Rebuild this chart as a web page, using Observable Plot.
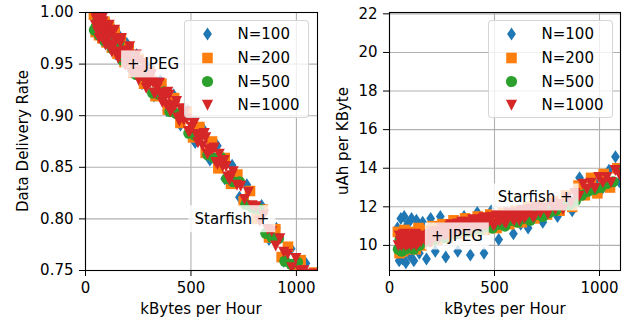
<!DOCTYPE html>
<html>
<head>
<meta charset="utf-8">
<script src="https://cdn.jsdelivr.net/npm/d3@7"></script>
<script src="https://cdn.jsdelivr.net/npm/@observablehq/plot@0.6"></script>
<style>
  body { margin: 0; background: #fff; font-family: "DejaVu Sans", sans-serif; }
  #wrap { position: relative; width: 639px; height: 322px; overflow: hidden; background: #fff; }
  .panel { position: absolute; top: 0; }
  .lab { position: absolute; font-size: 15px; color: #000; white-space: nowrap; line-height: 1; }
  .legend { position: absolute; background: rgba(255,255,255,0.8); border: 1px solid rgba(204,204,204,0.8); border-radius: 4px; box-sizing: border-box; }
  .legend svg { position: absolute; left: 0; top: 0; overflow: visible; }
</style>
</head>
<body>
<div id="wrap"></div>
<script>
// ---------------- data ----------------
const seriesLabels = ["N=100", "N=200", "N=500", "N=1000"];
const seriesColors = ["#1f77b4", "#ff7f0e", "#2ca02c", "#d62728"];

// N=100
const n100Kbph = [38,46,54,62,70,78,86,95,105,116,128,142,158,176,196,218,242,268,296,325,355,385,418,450,485,520,555,590,625,660,695,730,765,800,835,870,905,940,975,1010,1045,1076,1095];
const n100Rate = [0.999,0.980,0.998,0.977,0.997,0.973,0.994,0.970,0.990,0.966,0.985,0.960,0.978,0.952,0.970,0.943,0.959,0.931,0.947,0.919,0.934,0.905,0.920,0.891,0.905,0.874,0.888,0.857,0.871,0.839,0.852,0.821,0.833,0.801,0.813,0.780,0.791,0.759,0.771,0.745,0.757,0.746,0.740];
const n100Uah  = [10.9,9.2,11.4,9.3,11.5,9.1,11.1,9.5,11.4,9.2,11.3,9.6,11.2,9.3,11.4,9.7,11.5,9.4,11.2,9.7,11.5,9.5,11.7,9.6,11.8,10.3,11.7,10.6,11.1,10.9,12.0,11.2,12.2,11.5,12.5,11.8,13.5,12.7,13.3,12.9,13.9,14.6,13.3];

// N=200
const n200Kbph = [40,48,56,64,72,80,90,100,112,125,138,152,168,185,205,228,252,278,305,332,360,390,420,450,480,510,540,570,600,630,660,690,720,750,780,810,840,870,900,930,960,990,1020,1050,1085];
const n200Rate = [0.998,0.981,0.998,0.978,0.995,0.975,0.991,0.971,0.986,0.966,0.981,0.960,0.974,0.952,0.966,0.942,0.955,0.931,0.943,0.919,0.931,0.906,0.917,0.893,0.904,0.879,0.889,0.864,0.875,0.849,0.859,0.834,0.843,0.817,0.827,0.800,0.809,0.782,0.790,0.763,0.773,0.748,0.760,0.737,0.748];
const n200Uah  = [10.7,9.6,10.5,9.7,10.8,9.8,10.6,9.9,10.7,9.8,10.9,10.0,10.8,10.2,11.0,10.3,11.1,10.4,11.3,10.6,11.4,10.7,11.5,10.8,11.6,10.9,11.7,11.1,11.8,11.2,12.0,11.4,12.1,11.6,12.3,11.8,12.6,12.0,13.1,12.6,13.5,12.7,13.7,13.0,14.0];

// N=500
const n500Kbph = [42,50,58,66,74,84,94,104,115,128,142,158,175,195,215,240,265,290,318,345,372,400,430,460,490,520,550,580,610,640,670,700,730,760,790,820,855,885,915,945,975,1005,1035,1065,1095];
const n500Rate = [0.983,0.986,0.992,0.978,0.981,0.987,0.972,0.975,0.981,0.965,0.967,0.971,0.954,0.955,0.958,0.940,0.939,0.941,0.922,0.921,0.923,0.904,0.902,0.903,0.883,0.881,0.882,0.862,0.859,0.860,0.839,0.836,0.836,0.814,0.811,0.810,0.786,0.782,0.781,0.759,0.756,0.758,0.739,0.739,0.742];
const n500Uah  = [9.8,10.3,9.7,10.0,9.8,10.4,9.9,10.1,9.8,10.2,10.0,10.3,10.2,10.6,10.3,10.5,10.4,10.7,10.6,10.8,10.7,11.0,10.8,11.0,10.9,11.1,11.0,11.3,11.2,11.4,11.3,11.6,11.5,11.7,11.8,12.0,12.1,12.3,12.6,12.8,12.9,13.0,13.2,13.3,13.9];

// N=1000
const n1000Kbph = [42,47,52,57,62,67,72,77,82,87,92,97,103,109,115,121,128,135,142,150,158,
  166,175,184,194,204,214,225,236,247,258,270,282,294,306,318,331,344,357,370,383,396,410,424,438,452,466,480,495,510,525,540,555,570,586,602,618,634,650,666,683,700,
  718,736,754,772,790,808,826,845,864,883,902,921,940,959,978,997,1016,1035,1055,1075,1095,
  55,65,80,95,112,125,138,155,
  170,189,199,209,219,230,241,252,264,276,288,300,312,325,338,351,364,377,390,403,417,431,445,459,473,488,503,518,533,548,563,578,594,610,626,642,658,675,692];
const n1000Rate = [0.998,0.988,0.993,0.982,0.995,0.984,0.989,0.978,0.991,0.980,0.985,0.974,0.986,0.975,0.980,0.968,0.981,0.969,0.974,0.962,0.974,
  0.971,0.961,0.963,0.953,0.963,0.952,0.954,0.943,0.953,0.942,0.944,0.933,0.942,0.932,0.933,0.922,0.931,0.920,0.922,0.911,0.920,0.909,0.910,0.898,0.907,0.896,0.897,0.885,0.894,0.882,0.882,0.871,0.879,0.867,0.868,0.855,0.863,0.851,0.851,0.838,0.846,
  0.833,0.832,0.819,0.826,0.813,0.812,0.798,0.804,0.790,0.788,0.774,0.781,0.768,0.766,0.753,0.762,0.750,0.750,0.738,0.747,0.736,
  0.999,0.975,0.995,0.969,0.988,0.962,0.983,0.956,
  0.975,0.949,0.958,0.967,0.942,0.951,0.959,0.935,0.943,0.951,0.927,0.935,0.940,0.922,0.927,0.932,0.913,0.918,0.923,0.904,0.909,0.914,0.895,0.899,0.904,0.885,0.889,0.894,0.874,0.878,0.883,0.863,0.867,0.869,0.853,0.855,0.857,0.841,0.842];
const n1000Uah  = [10.0,10.5,10.2,10.0,10.4,10.1,10.6,10.0,10.3,10.05,10.5,10.2,10.0,10.4,10.1,10.6,10.0,10.3,10.5,10.2,10.4,
  10.48,10.19,10.44,10.15,10.71,10.41,10.68,10.37,10.91,10.60,10.85,10.54,11.08,10.77,11.00,10.68,11.21,10.89,11.13,10.81,11.34,11.02,11.25,10.93,11.45,11.13,11.36,11.04,11.57,11.25,11.48,11.16,11.69,11.37,11.61,11.30,11.84,11.53,11.77,11.46,12.00,
  11.70,11.94,11.64,12.18,11.88,12.14,11.88,12.48,12.24,12.70,12.56,13.18,12.94,13.24,12.96,13.54,13.26,13.54,13.28,13.90,13.67,
  10.3,10.55,10.15,10.45,10.25,10.55,10.15,10.35,
  10.26,10.57,10.23,10.48,10.74,10.40,10.64,10.88,10.52,10.77,11.01,10.65,10.88,11.12,10.75,10.98,11.21,10.84,11.08,11.31,10.94,11.16,11.39,11.02,11.25,11.48,11.11,11.34,11.57,11.20,11.43,11.66,11.29,11.53,11.77,11.41,11.65,11.89,11.53];

// reference systems (annotations)
const refLabels = ["+ JPEG", "Starfish +"];
const refKbph = [229, 840];
const refRate = [0.95, 0.80];
const refUah = [10.48, 12.5];

// ticks
const xTicks = [0, 500, 1000];
const rateTicks = [0.75, 0.80, 0.85, 0.90, 0.95, 1.00];
const uahTicks = [10, 12, 14, 16, 18, 20, 22];

// ---------------- build tables ----------------
const seriesData = [
  [n100Kbph, n100Rate, n100Uah],
  [n200Kbph, n200Rate, n200Uah],
  [n500Kbph, n500Rate, n500Uah],
  [n1000Kbph, n1000Rate, n1000Uah]
].map(([xs, rs, us], i) => xs.map((x, j) => ({x, rate: rs[j], uah: us[j], series: seriesLabels[i]})));

const refs = refLabels.map((label, i) => ({label, x: refKbph[i], rate: refRate[i], uah: refUah[i]}));

// matplotlib-like marker shapes
const symbols = [
  {draw(c) { c.moveTo(0, -6.5); c.lineTo(4.4, 0); c.lineTo(0, 6.5); c.lineTo(-4.4, 0); c.closePath(); }},          // thin diamond
  {draw(c) { c.moveTo(-5.3, -5.3); c.lineTo(5.3, -5.3); c.lineTo(5.3, 5.3); c.lineTo(-5.3, 5.3); c.closePath(); }}, // square
  {draw(c) { c.moveTo(5.6, 0); c.arc(0, 0, 5.6, 0, 2 * Math.PI); c.closePath(); }},                                  // circle
  {draw(c) { c.moveTo(-5.6, -5.2); c.lineTo(5.6, -5.2); c.lineTo(0, 5.8); c.closePath(); }}                          // triangle down
];

const FONT = "DejaVu Sans";
const wrap = document.getElementById("wrap");

function panel({left, width, marginLeft, marginRight, yKey, yDomain, yTicks, yFormat}) {
  const marks = [
    Plot.gridX({ticks: xTicks, stroke: "#b0b0b0", strokeOpacity: 1, strokeWidth: 1.1}),
    Plot.gridY({ticks: yTicks, stroke: "#b0b0b0", strokeOpacity: 1, strokeWidth: 1.1}),
    ...seriesData.map((d, i) => Plot.dot(d, {x: "x", y: yKey, symbol: symbols[i], fill: seriesColors[i], stroke: null, clip: true})),
    Plot.text([refs[0]], {x: "x", y: yKey, text: "label", textAnchor: "start", dx: -6.7, fontSize: 15, fill: "black"}),
    Plot.text([refs[1]], {x: "x", y: yKey, text: "label", textAnchor: "end", dx: 6.7, fontSize: 15, fill: "black"}),
    Plot.frame({stroke: "black", strokeWidth: 1.1}),
    Plot.axisX({ticks: xTicks, tickSize: 6, tickPadding: 5.5, label: null, fontSize: 15, tickFormat: d3.format("d")}),
    Plot.axisY({ticks: yTicks, tickSize: 6, tickPadding: 6, label: null, fontSize: 15, tickFormat: yFormat})
  ];
  const svg = Plot.plot({
    width, height: 322,
    marginLeft, marginRight, marginTop: 12, marginBottom: 52,
    x: {domain: [0, 1100]},
    y: {domain: yDomain},
    style: {fontFamily: FONT, fontSize: "15px", color: "black", background: "transparent", overflow: "visible"},
    marks
  });
  svg.classList.add("panel");
  svg.style.left = left + "px";
  wrap.appendChild(svg);
  // semi-transparent white boxes behind annotation texts (like matplotlib bbox)
  svg.querySelectorAll('g[aria-label="text"] text').forEach(t => {
    const b = t.getBBox();
    const r = document.createElementNS("http://www.w3.org/2000/svg", "rect");
    const px = 6, py = 4.5;
    r.setAttribute("x", b.x - px);
    r.setAttribute("y", b.y - py);
    r.setAttribute("width", b.width + 2 * px);
    r.setAttribute("height", b.height + 2 * py);
    r.setAttribute("fill", "white");
    r.setAttribute("fill-opacity", 0.8);
    const tr = t.getAttribute("transform");
    if (tr) r.setAttribute("transform", tr);
    t.parentNode.insertBefore(r, t);
  });
  return svg;
}

panel({left: 0, width: 320, marginLeft: 85, marginRight: 3, yKey: "rate", yDomain: [0.75, 1.0], yTicks: rateTicks, yFormat: d3.format(".2f")});
panel({left: 320, width: 319, marginLeft: 69, marginRight: 19, yKey: "uah", yDomain: [8.7, 22.07], yTicks: uahTicks, yFormat: d3.format("d")});

// axis labels
function label(text, x, y, rotate) {
  const d = document.createElement("div");
  d.className = "lab";
  d.textContent = text;
  d.style.left = x + "px";
  d.style.top = y + "px";
  d.style.transform = "translate(-50%,-50%)" + (rotate ? " rotate(-90deg)" : "");
  wrap.appendChild(d);
}
label("kBytes per Hour", 201, 309, false);
label("kBytes per Hour", 505, 309, false);
label("Data Delivery Rate", 23, 141, true);
label("uAh per KByte", 343, 141, true);

// legends
function legend(left) {
  const box = document.createElement("div");
  box.className = "legend";
  box.style.left = left + "px";
  box.style.top = "20px";
  box.style.width = "125px";
  box.style.height = "98px";
  const ns = "http://www.w3.org/2000/svg";
  const s = document.createElementNS(ns, "svg");
  s.setAttribute("width", 125);
  s.setAttribute("height", 98);
  const rowsY = [13, 37, 60.5, 84];
  seriesLabels.forEach((lab, i) => {
    const p = document.createElementNS(ns, "path");
    const path = d3.path();
    symbols[i].draw(path);
    p.setAttribute("d", path.toString());
    p.setAttribute("fill", seriesColors[i]);
    p.setAttribute("transform", `translate(22.5,${rowsY[i]})`);
    s.appendChild(p);
    const t = document.createElementNS(ns, "text");
    t.setAttribute("x", 52.5);
    t.setAttribute("y", rowsY[i] + 5.4);
    t.setAttribute("font-family", FONT);
    t.setAttribute("font-size", 15);
    t.textContent = lab;
    s.appendChild(t);
  });
  box.appendChild(s);
  wrap.appendChild(box);
}
legend(184);
legend(488);
</script>
</body>
</html>
